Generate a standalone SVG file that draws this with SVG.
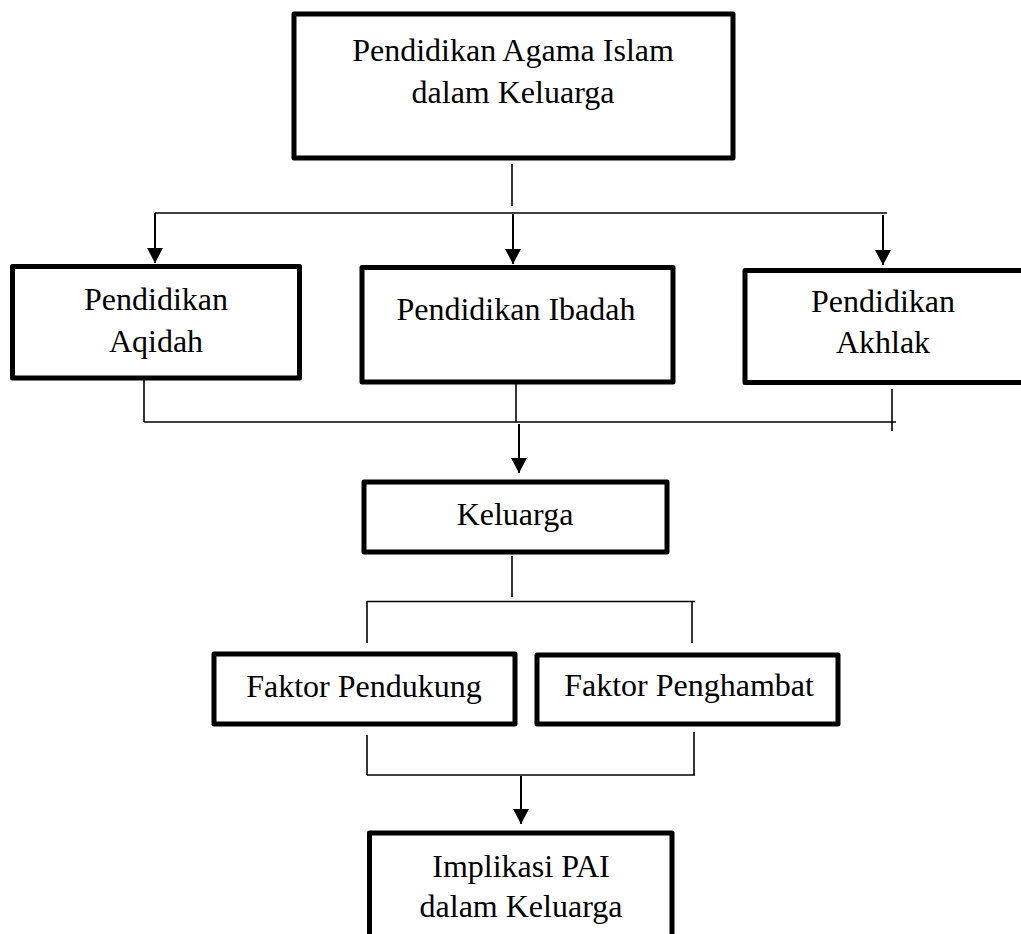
<svg xmlns="http://www.w3.org/2000/svg" width="1021" height="934" viewBox="0 0 1021 934">
<style>
.box{fill:#fff;stroke:#000;stroke-width:5;stroke-linejoin:round}
.t{font-family:"Liberation Serif","Times New Roman",serif;font-size:32px;fill:#000;text-anchor:middle}
.ln{stroke:#000;stroke-width:1.6;fill:none}
.ar{stroke:#000;stroke-width:2;fill:none;marker-end:url(#ah)}
</style>
<defs>
<marker id="ah" markerUnits="userSpaceOnUse" viewBox="0 0 15 16" markerWidth="15" markerHeight="16" refX="15" refY="8" orient="auto">
<path d="M0,0 L15,8 L0,16 Z" fill="#000"/>
</marker>
</defs>
<rect x="0" y="0" width="1021" height="934" fill="#fff"/>
<g id="connectors">
<line class="ln" x1="512" y1="164" x2="512" y2="206"/>
<line class="ln" x1="155" y1="213" x2="887" y2="213"/>
<line class="ar" x1="155" y1="213" x2="155" y2="263"/>
<line class="ar" x1="513" y1="214" x2="513" y2="264"/>
<line class="ar" x1="883" y1="215" x2="883" y2="265"/>
<line class="ln" x1="144" y1="380" x2="144" y2="422"/>
<line class="ln" x1="516" y1="384" x2="516" y2="422"/>
<line class="ln" x1="892" y1="389" x2="892" y2="431"/>
<line class="ln" x1="144" y1="422" x2="896" y2="422"/>
<line class="ar" x1="519" y1="424" x2="519" y2="473"/>
<line class="ln" x1="512" y1="556" x2="512" y2="597"/>
<line class="ln" x1="367" y1="601.5" x2="695" y2="601.5"/>
<line class="ln" x1="367" y1="601" x2="367" y2="643"/>
<line class="ln" x1="692" y1="601" x2="692" y2="643"/>
<line class="ln" x1="367" y1="735" x2="367" y2="775"/>
<line class="ln" x1="694" y1="732" x2="694" y2="775"/>
<line class="ln" x1="367" y1="775" x2="695" y2="775"/>
<line class="ar" x1="521" y1="776" x2="521" y2="824"/>
</g>
<g id="node-pai">
<rect class="box" x="294" y="14" width="439" height="144"/>
<text class="t" x="513" y="61">Pendidikan Agama Islam</text>
<text class="t" x="513" y="103">dalam Keluarga</text>
</g>
<g id="node-aqidah">
<rect class="box" x="12.5" y="266.5" width="287" height="111.5"/>
<text class="t" x="156" y="310">Pendidikan</text>
<text class="t" x="156" y="352">Aqidah</text>
</g>
<g id="node-ibadah">
<rect class="box" x="362" y="267.5" width="311" height="114.5"/>
<text class="t" x="516" y="320">Pendidikan Ibadah</text>
</g>
<g id="node-akhlak">
<rect class="box" x="745" y="270.5" width="290" height="112"/>
<text class="t" x="883" y="312">Pendidikan</text>
<text class="t" x="883" y="353">Akhlak</text>
</g>
<g id="node-keluarga">
<rect class="box" x="364" y="482" width="303" height="70"/>
<text class="t" x="515" y="525">Keluarga</text>
</g>
<g id="node-pendukung">
<rect class="box" x="214" y="654" width="301" height="70"/>
<text class="t" x="364" y="697">Faktor Pendukung</text>
</g>
<g id="node-penghambat">
<rect class="box" x="537" y="655" width="301" height="69"/>
<text class="t" x="689" y="696">Faktor Penghambat</text>
</g>
<g id="node-implikasi">
<rect class="box" x="369.5" y="833" width="302.5" height="130"/>
<text class="t" x="521" y="877">Implikasi PAI</text>
<text class="t" x="521" y="917">dalam Keluarga</text>
</g>
</svg>
